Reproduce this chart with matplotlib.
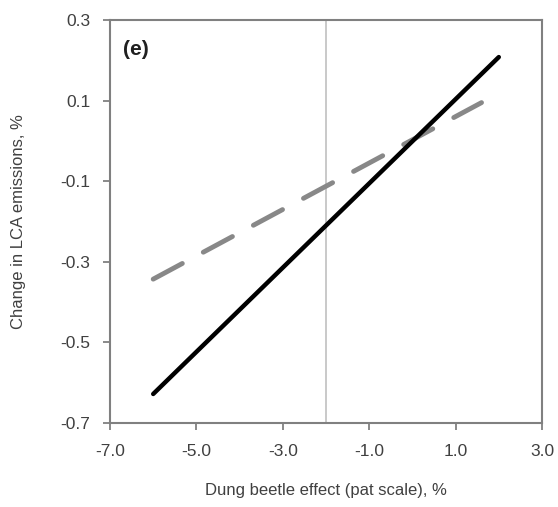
import matplotlib
matplotlib.use("Agg")
import matplotlib.pyplot as plt

plt.rcParams['font.family'] = ['Liberation Sans', 'DejaVu Sans']

# Data
x_black = [-6.0, 2.0]
y_black = [-0.628, 0.208]
x_gray = [-6.0, 1.6]
y_gray = [-0.343, 0.095]
vline_x = -2.0
xticks = [-7.0, -5.0, -3.0, -1.0, 1.0, 3.0]
yticks = [-0.7, -0.5, -0.3, -0.1, 0.1, 0.3]

fig = plt.figure(figsize=(5.58, 5.07), dpi=100)
ax = fig.add_axes([110/558, 1-423/507, 432/558, 403/507])

ax.axvline(vline_x, color='#c0c0c0', lw=1.2, zorder=1)
ax.plot(x_gray, y_gray, color='#888888', lw=3.5, dashes=(6.8, 4.9), solid_capstyle='round', dash_capstyle='round', zorder=2)
ax.plot(x_black, y_black, color='black', lw=3.2, solid_capstyle='round', zorder=3)

ax.set_xlim(-7, 3)
ax.set_ylim(-0.7, 0.3)
ax.set_xticks(xticks)
ax.set_yticks(yticks)
ax.set_xticklabels([f"{v:.1f}" for v in xticks])
ax.set_yticklabels([f"{v:.1f}" for v in yticks])

for s in ax.spines.values():
    s.set_color('#808080')
    s.set_linewidth(1.5)
ax.tick_params(direction='out', length=5, width=1.3, color='#808080', labelsize=12.5, labelcolor='#404040')
ax.tick_params(axis='x', pad=10)
ax.tick_params(axis='y', pad=9)

ax.set_xlabel("Dung beetle effect (pat scale), %", fontsize=12, color='#404040')
ax.set_ylabel("Change in LCA emissions, %", fontsize=12, color='#404040')
ax.xaxis.set_label_coords(0.5, -(491-423)/403, transform=ax.transAxes)
ax.yaxis.set_label_coords(-(110-19)/432, 0.5, transform=ax.transAxes)
ax.xaxis.label.set_va('center')
ax.yaxis.label.set_va('center')

ax.text(0.03, 0.95, "(e)", transform=ax.transAxes, fontsize=15, fontweight='bold', color='#202020', va='top', ha='left')

fig.savefig("out.png", dpi=100)
